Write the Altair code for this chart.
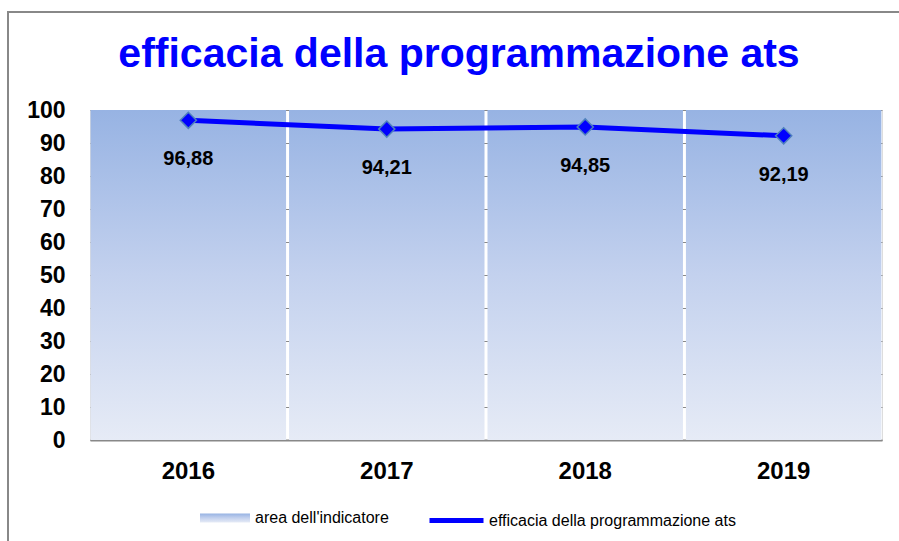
import altair as alt
import pandas as pd

# ---- data ----
anni = ["2016", "2017", "2018", "2019"]
efficacia = [96.88, 94.21, 94.85, 92.19]
etichette = ["96,88", "94,21", "94,85", "92,19"]
area_indicatore = [100, 100, 100, 100]
tick_y = [0, 10, 20, 30, 40, 50, 60, 70, 80, 90, 100]

serie_area = "area dell'indicatore"
serie_linea = "efficacia della programmazione ats"

df = pd.DataFrame({
    "anno": anni,
    "valore": efficacia,
    "etichetta": etichette,
    "area": area_indicatore,
    "serie_area": [serie_area] * len(anni),
    "serie_linea": [serie_linea] * len(anni),
})

FONT = "Liberation Sans"

x_axis = alt.Axis(
    labelAngle=0, labelFont=FONT, labelFontSize=24, labelFontWeight="bold",
    labelColor="black", labelPadding=19, ticks=False, domainColor="#888888",
    domainWidth=2, grid=False,
)
x_scale = alt.Scale(paddingInner=0.015, paddingOuter=0.003)
y_scale = alt.Scale(domain=[0, 100], nice=False)
y_axis = alt.Axis(
    values=tick_y, labelFont=FONT, labelFontSize=23,
    labelFontWeight="bold", labelColor="black", labelPadding=25, ticks=False,
    labelOverlap=False, domain=False, grid=True, gridColor="#888888", gridWidth=1,
)

def X():
    return alt.X("anno:N", title=None, scale=x_scale, axis=x_axis)

def Y(field):
    return alt.Y(field, title=None, scale=y_scale, axis=y_axis)

gradient = alt.LinearGradient(
    gradient="linear",
    stops=[
        alt.GradientStop(color="#e6ebf6", offset=0),
        alt.GradientStop(color="#c3d1ee", offset=0.5),
        alt.GradientStop(color="#97b3e3", offset=1),
    ],
    x1=1, x2=1, y1=1, y2=0,
)

bars = alt.Chart(df).mark_bar(fill=gradient, stroke=None).encode(
    x=X(),
    y=Y("area:Q"),
    opacity=alt.Opacity(
        "serie_area:N",
        scale=alt.Scale(range=[1]),
        legend=alt.Legend(
            title=None, orient="none", legendX=110, legendY=383,
            symbolType="M-1,-0.18H1V0.18H-1Z", symbolSize=2500,
            symbolFillColor="#c9d5ef", symbolStrokeWidth=0,
            labelFont=FONT, labelFontSize=16, labelColor="black", labelOffset=5,
            labelLimit=400,
        ),
    ),
)

line = alt.Chart(df).mark_line(strokeWidth=5).encode(
    x=X(),
    y=Y("valore:Q"),
    color=alt.Color(
        "serie_linea:N",
        scale=alt.Scale(range=["#0000ff"]),
        legend=alt.Legend(
            title=None, orient="none", legendX=337, legendY=381,
            symbolType="stroke", symbolSize=2916, symbolStrokeWidth=5,
            labelFont=FONT, labelFontSize=16, labelColor="black", labelOffset=3,
            labelLimit=400,
        ),
    ),
)

points = alt.Chart(df).mark_point(
    shape="diamond", filled=True, size=260, fill="#0000ff",
    stroke="#4f81bd", strokeWidth=1.5, opacity=1,
).encode(
    x=X(),
    y=Y("valore:Q"),
)

labels = alt.Chart(df).mark_text(
    font=FONT, fontSize=20, fontWeight="bold", color="black",
    baseline="middle", dy=39,
).encode(
    x=X(),
    y=Y("valore:Q"),
    text="etichetta:N",
)

frame_df = pd.DataFrame({"k": [0]})
frame_top = alt.Chart(frame_df).mark_rule(color="#888888", strokeWidth=2).encode(
    x=alt.value(-83), x2=alt.value(809), y=alt.value(-98)
)
frame_left = alt.Chart(frame_df).mark_rule(color="#888888", strokeWidth=2).encode(
    x=alt.value(-82), y=alt.value(-98), y2=alt.value(431)
)

chart = alt.layer(frame_top, frame_left, bars, line, points, labels).properties(
    width=792,
    height=330,
    padding={"left": 90, "top": 110, "right": 17, "bottom": 101},
    autosize=alt.AutoSizeParams(type="none"),
    title=alt.TitleParams(
        text="efficacia della programmazione ats",
        font=FONT, fontSize=41, fontWeight="bold", color="#0000ff",
        anchor="middle", baseline="alphabetic", offset=-97, dx=-27,
    ),
).resolve_legend(color="independent", opacity="independent").configure_view(
    stroke=None
).configure(background="white")

chart.save("out.html", embed_options={"renderer": "svg", "actions": False})
